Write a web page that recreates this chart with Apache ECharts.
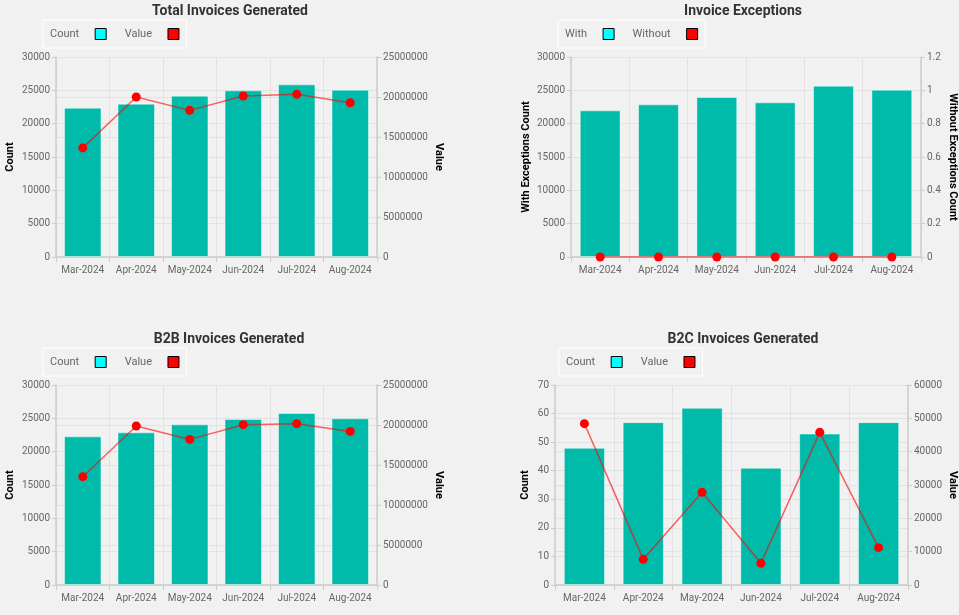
<!DOCTYPE html>
<html><head><meta charset="utf-8">
<script src="https://cdn.jsdelivr.net/npm/echarts@6/dist/echarts.min.js"></script>
<style>html,body{margin:0;padding:0;background:#f1f1f1;}#c{width:959px;height:615px;}</style>
</head><body><div id="c"></div>
<script>
const months = ['Mar-2024','Apr-2024','May-2024','Jun-2024','Jul-2024','Aug-2024'];
const totalCount = [22400, 23000, 24200, 25000, 25900, 25100];
const totalValue = [13640000, 20000000, 18330000, 20120000, 20330000, 19280000];
const exWith = [22000, 22900, 24000, 23200, 25700, 25100];
const exWithout = [0, 0, 0, 0, 0, 0];
const b2bCount = [22300, 22900, 24100, 24900, 25800, 25000];
const b2bValue = [13540000, 19870000, 18200000, 20040000, 20170000, 19200000];
const b2cCount = [48, 57, 62, 41, 53, 57];
const b2cValue = [48400, 7700, 27800, 6500, 45800, 11200];

const FONT = 'Roboto';
const BAR = '#00BBAA';
const GRIDC = '#e2e2e2';
const AXC = '#cccccc';

function titleAt(text, cx, top){
  return {text:text, left:cx, top:top, textAlign:'center', padding:0,
    textStyle:{fontFamily:FONT, fontSize:14, fontWeight:'bold', color:'#333'}};
}
function legendAt(names, left, top){
  return {left:left, top:top, orient:'horizontal', align:'right',
    itemWidth:11, itemHeight:11, itemGap:18, padding:[8,7,8,7],
    borderColor:'#ffffff', borderWidth:1,
    formatter:function(n){ return '{t|' + n + '}'; },
    textStyle:{fontFamily:FONT, fontSize:11, color:'#666',
      rich:{t:{fontFamily:FONT, fontSize:11, color:'#666', padding:[0,11,0,0]}}},
    data:[{name:names[0], icon:'rect', itemStyle:{color:'#00ffff', borderColor:'#000', borderWidth:1}},
          {name:names[1], icon:'rect', itemStyle:{color:'#ff0000', borderColor:'#000', borderWidth:1}}]};
}
function xAx(gi){
  return {type:'category', gridIndex:gi, data:months,
    axisLine:{lineStyle:{color:AXC, width:1.5}},
    axisTick:{show:true, lineStyle:{color:AXC}},
    axisLabel:{fontFamily:FONT, fontSize:10, color:'#666', margin:8, interval:0},
    splitLine:{show:true, lineStyle:{color:GRIDC}}};
}
function yAx(gi, pos, min, max, interval, name, gap, rot){
  return {type:'value', gridIndex:gi, position:pos, min:min, max:max, interval:interval,
    name:name, nameLocation:'middle', nameGap:gap, nameRotate:rot,
    nameTextStyle:{fontFamily:FONT, fontSize:11, fontWeight:'bold', color:'#000'},
    axisLine:{show:true, lineStyle:{color:AXC, width:1.5}},
    axisTick:{show:true, length:4, lineStyle:{color:AXC}},
    axisLabel:{fontFamily:FONT, fontSize:10, color:'#666', margin:6,
      formatter:function(v){ return String(Math.round(v*10)/10); }},
    splitLine:{show:true, lineStyle:{color:GRIDC}}};
}
function barS(name, xi, yi, data){
  return {type:'bar', name:name, xAxisIndex:xi, yAxisIndex:yi, data:data,
    barCategoryGap:'30%', itemStyle:{color:BAR, borderColor:'rgba(255,255,255,0.45)', borderWidth:1}, z:2};
}
function lineS(name, xi, yi, data){
  return {type:'line', name:name, xAxisIndex:xi, yAxisIndex:yi, data:data,
    symbol:'circle', symbolSize:9, itemStyle:{color:'#ff0000'},
    lineStyle:{color:'rgba(255,0,0,0.6)', width:1.5}, z:5};
}

const chart = echarts.init(document.getElementById('c'));
chart.setOption({
  backgroundColor:'#f1f1f1',
  animation:false,
  title:[
    titleAt('Total Invoices Generated', 230, 4),
    titleAt('Invoice Exceptions', 743, 4),
    titleAt('B2B Invoices Generated', 229, 332),
    titleAt('B2C Invoices Generated', 743, 332)
  ],
  legend:[
    legendAt(['Count','Value'], 43, 20),
    legendAt(['With','Without'], 558, 20),
    legendAt(['Count','Value'], 43, 348),
    legendAt(['Count','Value'], 559, 348)
  ],
  grid:[
    {left:56, right:582, top:57, height:200},
    {left:571, right:38, top:57, height:200},
    {left:56, right:582, top:385, height:200},
    {left:555, right:51, top:385, height:200}
  ],
  xAxis:[xAx(0), xAx(1), xAx(2), xAx(3)],
  yAxis:[
    yAx(0,'left',0,30000,5000,'Count',40,90),
    yAx(0,'right',0,25000000,5000000,'Value',56,-90),
    yAx(1,'left',0,30000,5000,'With Exceptions Count',39,90),
    yAx(1,'right',0,1.2,0.2,'Without Exceptions Count',26,-90),
    yAx(2,'left',0,30000,5000,'Count',40,90),
    yAx(2,'right',0,25000000,5000000,'Value',56,-90),
    yAx(3,'left',0,70,10,'Count',24,90),
    yAx(3,'right',0,60000,10000,'Value',39,-90)
  ],
  series:[
    barS('Count',0,0,totalCount), lineS('Value',0,1,totalValue),
    barS('With',1,2,exWith), lineS('Without',1,3,exWithout),
    barS('Count',2,4,b2bCount), lineS('Value',2,5,b2bValue),
    barS('Count',3,6,b2cCount), lineS('Value',3,7,b2cValue)
  ]
});
</script></body></html>
